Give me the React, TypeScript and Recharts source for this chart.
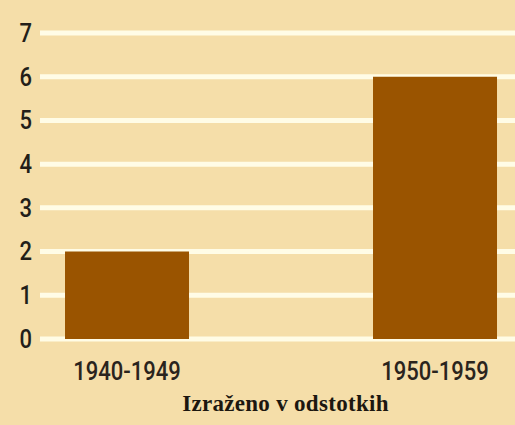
import React from 'react';
import { BarChart, Bar, XAxis, YAxis, CartesianGrid, Label } from 'recharts';

const categories = ['1940-1949', '1950-1959'];
const values = [2, 6];
const yTicks = [0, 1, 2, 3, 4, 5, 6, 7];
const caption = 'Izraženo v odstotkih';

const data = categories.map((label, i) => ({ idx: i, label, value: values[i] }));

const tickFont = 'Roboto, "Liberation Sans", sans-serif';

const XTick = (props: any) => {
  const { x, y, payload } = props;
  return (
    <g transform={`translate(${x},${y})`}>
      <text
        transform="scale(0.88,1)"
        textAnchor="middle"
        dy="0.71em"
        fill="#2a241d"
        fontSize={25}
        fontWeight={500}
        fontFamily={tickFont}
      >
        {categories[payload.value]}
      </text>
    </g>
  );
};

const YTick = (props: any) => {
  const { x, y, payload } = props;
  return (
    <g transform={`translate(${x},${y})`}>
      <text
        transform="scale(0.88,1)"
        textAnchor="end"
        dy="0.355em"
        fill="#231e19"
        fontSize={25}
        fontWeight={500}
        fontFamily={tickFont}
      >
        {payload.value}
      </text>
    </g>
  );
};

export default function App() {
  return (
    <div style={{ position: 'absolute', left: 0, top: 0, width: 515, height: 425, background: '#f5dea9' }}>
      <BarChart width={515} height={425} data={data} margin={{ top: 33, right: 0, left: 0, bottom: 0 }}>
        <CartesianGrid vertical={false} stroke="#fffce6" strokeWidth={5} />
        <XAxis
          type="number"
          dataKey="idx"
          domain={[-0.2825, 1.2597]}
          ticks={[0, 1]}
          axisLine={false}
          tickLine={false}
          tickMargin={17}
          height={86}
          tick={<XTick />}
        >
          <Label
            value={caption}
            position="insideBottom"
            offset={14}
            dx={8}
            style={{ fill: '#1c1710', fontSize: 23, fontWeight: 'bold', fontFamily: '"Liberation Serif", "DejaVu Serif", serif', letterSpacing: 0.3 }}
          />
        </XAxis>
        <YAxis
          type="number"
          domain={[0, 7]}
          ticks={yTicks}
          interval={0}
          width={40}
          axisLine={false}
          tickLine={false}
          tick={<YTick />}
        />
        <Bar dataKey="value" fill="#9a5400" barSize={124} isAnimationActive={false} />
      </BarChart>
    </div>
  );
}
